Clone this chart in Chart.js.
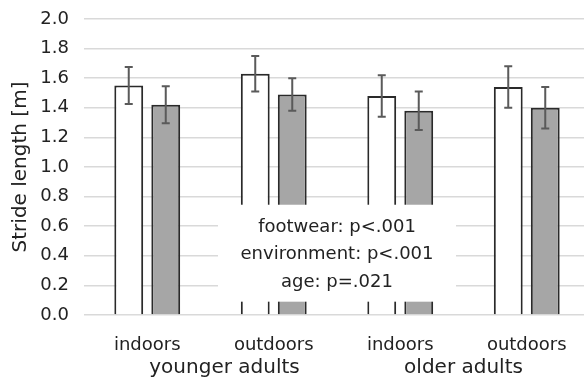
<!DOCTYPE html>
<html>
<head>
<meta charset="utf-8">
<script src="https://cdn.jsdelivr.net/npm/chart.js@4.4.1/dist/chart.umd.min.js"></script>
<style>
  html, body { margin: 0; padding: 0; background: #fff; overflow: hidden; }
  #wrap { width: 590px; height: 380px; }
</style>
</head>
<body>
<div id="wrap"><canvas id="grafico"></canvas></div>
<script>
// categorias e grupos
const categorias = ['indoors', 'outdoors', 'indoors', 'outdoors'];
const grupos = ['younger adults', 'older adults'];
const grupoIndices = [[0, 1], [2, 3]];

// médias e desvios
const mediaBranca = [1.55, 1.63, 1.48, 1.54];
const dpBranca = [0.125, 0.12, 0.14, 0.14];
const mediaCinza = [1.42, 1.49, 1.38, 1.40];
const dpCinza = [0.125, 0.11, 0.13, 0.14];

const estatisticas = ['footwear: p<.001', 'environment: p<.001', 'age: p=.021'];
const yTicks = [0, 0.2, 0.4, 0.6, 0.8, 1.0, 1.2, 1.4, 1.6, 1.8, 2.0];

const corTexto = '#222222';
const fonte = 'DejaVu Sans';

// barras de erro
const errorBars = {
    id: 'errorBars',
    afterDatasetsDraw(chart) {
        const ctx = chart.ctx;
        const y = chart.scales.y;
        const dps = [dpBranca, dpCinza];
        ctx.save();
        ctx.strokeStyle = '#5a5a5a';
        ctx.lineWidth = 2;
        chart.data.datasets.forEach((ds, d) => {
            chart.getDatasetMeta(d).data.forEach((bar, i) => {
                const top = y.getPixelForValue(ds.data[i] + dps[d][i]);
                const bot = y.getPixelForValue(ds.data[i] - dps[d][i]);
                ctx.beginPath();
                ctx.moveTo(bar.x, top); ctx.lineTo(bar.x, bot);
                ctx.moveTo(bar.x - 4, top); ctx.lineTo(bar.x + 4, top);
                ctx.moveTo(bar.x - 4, bot); ctx.lineTo(bar.x + 4, bot);
                ctx.stroke();
            });
        });
        ctx.restore();
    }
};

// caixa com os valores de p
const caixaTexto = {
    id: 'caixaTexto',
    afterDatasetsDraw(chart) {
        const ctx = chart.ctx;
        const area = chart.chartArea;
        const y = chart.scales.y;
        const cx = (area.left + area.right) / 2;
        ctx.save();
        ctx.fillStyle = '#ffffff';
        const top = y.getPixelForValue(0.745);
        const bot = y.getPixelForValue(0.09);
        ctx.fillRect(cx - 119, top, 238, bot - top);
        ctx.fillStyle = corTexto;
        ctx.font = '18px "' + fonte + '"';
        ctx.textAlign = 'center';
        ctx.textBaseline = 'middle';
        const linhas = [0.595, 0.41, 0.222];
        estatisticas.forEach((t, i) => ctx.fillText(t, cx, y.getPixelForValue(linhas[i])));
        ctx.restore();
    }
};

// rótulos dos grupos
const rotulosGrupos = {
    id: 'rotulosGrupos',
    afterDraw(chart) {
        const ctx = chart.ctx;
        const x = chart.scales.x;
        ctx.save();
        ctx.fillStyle = corTexto;
        ctx.font = '20px "' + fonte + '"';
        ctx.textAlign = 'center';
        ctx.textBaseline = 'middle';
        grupos.forEach((g, i) => {
            const [a, b] = grupoIndices[i];
            let px = (x.getPixelForValue(a) + x.getPixelForValue(b)) / 2;
            if (i === 0) px += 14; // no original o primeiro rótulo fica deslocado
            ctx.fillText(g, px, chart.chartArea.bottom + 53);
        });
        ctx.restore();
    }
};

const ctx = document.getElementById('grafico').getContext('2d');
new Chart(ctx, {
    type: 'bar',
    data: {
        labels: categorias,
        datasets: [{
            label: 'footwear A',
            data: mediaBranca,
            backgroundColor: '#ffffff',
            borderColor: '#2a2a2a',
            borderWidth: 2
        }, {
            label: 'footwear B',
            data: mediaCinza,
            backgroundColor: '#a6a6a6',
            borderColor: '#2a2a2a',
            borderWidth: 2
        }]
    },
    options: {
        responsive: true,
        maintainAspectRatio: false,
        animation: false,
        categoryPercentage: 0.585,
        barPercentage: 0.78,
        layout: { padding: { top: 19, left: 0, right: 0, bottom: 0 } },
        plugins: {
            legend: { display: false },
            tooltip: { enabled: false }
        },
        scales: {
            x: {
                grid: { display: false },
                border: { display: false },
                ticks: { color: corTexto, font: { family: fonte, size: 18 }, padding: 12 },
                afterFit(scale) { scale.height = 65; }
            },
            y: {
                min: 0,
                max: 2.0,
                afterBuildTicks(scale) { scale.ticks = yTicks.map(v => ({ value: v })); },
                grid: { color: '#d9d9d9', lineWidth: 1.5, drawTicks: false },
                border: { display: false },
                ticks: {
                    color: corTexto,
                    font: { family: fonte, size: 18 },
                    padding: 15,
                    callback: v => v.toFixed(1)
                },
                title: {
                    display: true,
                    text: 'Stride length [m]',
                    color: corTexto,
                    font: { family: fonte, size: 20 },
                    padding: { top: 9, bottom: 0 }
                },
                afterFit(scale) {
                    scale.width = 84;
                    scale.paddingTop = 0;
                    scale.paddingBottom = 0;
                }
            }
        }
    },
    plugins: [errorBars, caixaTexto, rotulosGrupos]
});
</script>
</body>
</html>
